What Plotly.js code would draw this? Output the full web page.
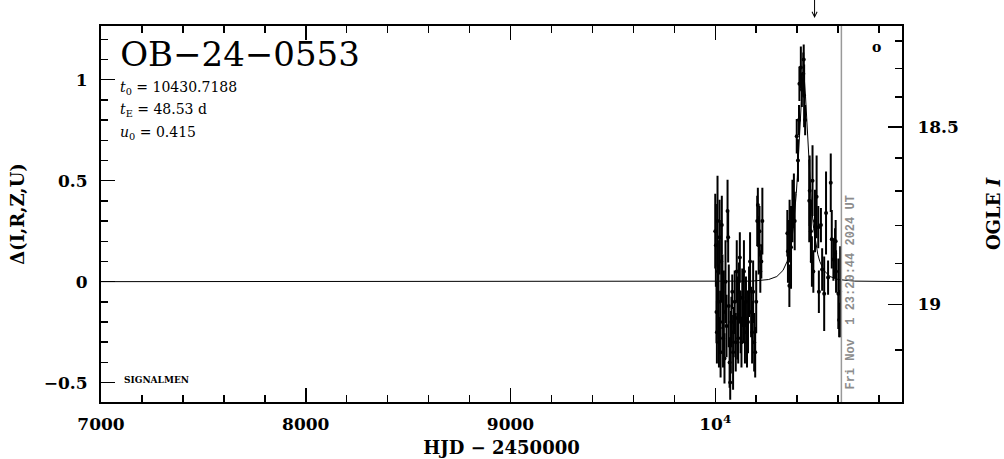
<!DOCTYPE html>
<html>
<head>
<meta charset="utf-8">
<script src="https://cdn.plot.ly/plotly-3.0.1.min.js"></script>
<style>html,body{margin:0;padding:0;background:#fff;}#chart{width:1004px;height:459px;}</style>
</head>
<body>
<div id="chart"></div>
<script>
// ---- observed data (HJD-2450000, Delta mag, error) ----
const obsT = [10000,10003,10006,10008,10011,10013,10016,10018,10021,10024,10026,10029,10032,10035,10038,10042,10045,10050,10055,10060,10063,10066,10070,10073,10076,10079,10083,10087,10090,10095,10100,10105,10108,10112,10116,10120,10124,10128,10132,10136,10140,10145,10150,10155,10160,10165,10170,10175,10180,10185,10190,10195,10200,10205,10208,10212,10216,10220,10225,10230,
  10352,10355,10362,10363,10370,10377,10384,10388,10398,10404,10409,10411,10418,10423,10430,10432,10434,10439,
  10459,10461,10467,10472,10475,10479,10487,10495,10503,10506,10516,10522,10532,10541,10551,10564,10569,10577,10585,10588,10590,10601,10605,10610];
const obsD = [0.25,0.18,-0.15,-0.25,0.30,0.05,-0.10,-0.30,0.22,-0.20,-0.35,0.10,0.28,-0.05,-0.28,-0.15,-0.38,0.00,-0.22,0.35,0.22,-0.12,-0.40,-0.50,-0.30,-0.20,-0.05,-0.35,-0.25,-0.10,-0.30,0.05,-0.18,-0.28,-0.05,0.12,-0.20,-0.30,-0.08,-0.18,0.05,-0.25,-0.10,-0.30,-0.20,-0.05,0.10,-0.15,-0.25,-0.05,-0.30,-0.35,-0.10,0.30,0.38,0.18,0.25,0.05,0.10,0.30,
  0.24,0.15,-0.02,0.25,0.17,0.35,0.40,0.30,0.72,0.60,0.80,0.98,1.06,0.95,1.03,1.10,0.92,0.80,
  0.40,0.45,0.25,0.10,0.50,0.05,0.30,0.42,0.27,-0.05,0.28,0.06,-0.06,0.34,0.02,0.49,0.21,0.11,0.14,0.20,0.05,-0.06,-0.19,-0.05];
const obsErr = [0.18,0.20,0.15,0.15,0.22,0.15,0.18,0.12,0.18,0.15,0.12,0.20,0.14,0.18,0.14,0.20,0.12,0.20,0.15,0.15,0.12,0.20,0.12,0.08,0.15,0.12,0.08,0.18,0.12,0.15,0.14,0.15,0.20,0.12,0.14,0.12,0.15,0.12,0.14,0.12,0.15,0.15,0.12,0.12,0.15,0.12,0.14,0.12,0.15,0.15,0.14,0.12,0.15,0.12,0.08,0.14,0.12,0.10,0.08,0.16,
  0.11,0.15,0.10,0.15,0.20,0.15,0.13,0.14,0.08,0.10,0.07,0.08,0.10,0.08,0.10,0.07,0.15,0.07,
  0.20,0.17,0.15,0.12,0.17,0.10,0.15,0.20,0.10,0.10,0.08,0.10,0.18,0.20,0.08,0.14,0.14,0.10,0.12,0.10,0.10,0.17,0.08,0.22];

// ---- model curve (t0 = 10430.7188, tE = 48.53 d, u0 = 0.415) ----
const modelT = [7000,10030.7,10180,10260.7,10300.7,10330.7,10350.7,10360.7,10370.7,10380.7,10390.7,10395.7,10400.7,10405.7,10410.7,10415.7,10420.7,10425.7,10430.7,
  10435.7,10440.7,10445.7,10450.7,10455.7,10460.7,10465.7,10470.7,10480.7,10490.7,10500.7,10510.7,10530.7,10560.7,10600.7,10680.7,10830.7,10920];
const modelD = [0,0.0004,0.0026,0.0105,0.0254,0.0555,0.0994,0.1357,0.1875,0.2617,0.3676,0.4357,0.5154,0.6071,0.7092,0.8166,0.9176,0.9932,1.0217,
  0.9932,0.9176,0.8166,0.7092,0.6071,0.5154,0.4357,0.3676,0.2617,0.1875,0.1357,0.0994,0.0555,0.0254,0.0105,0.0026,0.0004,0.0002];

// ---- axis ticks ----
const xTickVals = [7000,8000,9000,10000];
const xTickText = ['7000','8000','9000','10<sup>4</sup>'];
const yTickVals = [-0.5,0,0.5,1];
const yTickText = ['\u22120.5','0','0.5','1'];
const magMajor = [18.5,19];
const magMajorText = ['18.5','19'];
const magMinor = [18.2,18.3,18.4,18.6,18.7,18.8,18.9,19.1];
// OGLE I magnitude -> Delta mapping (baseline and source fraction)
const Ibase = 18.946, fsrc = 0.495;
function magToDelta(m){ return 2.5*Math.log10(1 + (Math.pow(10,0.4*(Ibase-m)) - 1)/fsrc); }

const tDate = 10616;   // Fri Nov 1 2024
const tArrow = 10485;

const serif = 'DejaVu Serif, serif';
const yRange = [-0.596, 1.266];

const traces = [
  {x: modelT, y: modelD, mode:'lines', line:{color:'#000', width:1}, hoverinfo:'skip', showlegend:false},
  {x: obsT, y: obsD, mode:'markers', marker:{color:'#000', size:4},
   error_y:{type:'data', array: obsErr, visible:true, color:'#000', thickness:2, width:1},
   showlegend:false, hoverinfo:'skip'},
  {x: [], y: [], yaxis:'y2', showlegend:false}
];

const layout = {
  width:1004, height:459,
  margin:{l:101, r:102, t:26, b:57},
  paper_bgcolor:'#fff', plot_bgcolor:'#fff',
  showlegend:false,
  font:{family:serif, color:'#000'},
  title:{text:'OB\u221224\u22120553', font:{family:serif, size:34, color:'#000'},
         xref:'paper', yref:'paper', x:0.024, xanchor:'left', y:0.925, yanchor:'middle'},
  xaxis:{range:[7000,10912], showgrid:false, zeroline:false,
    showline:true, linecolor:'#000', linewidth:2, mirror:'ticks',
    ticks:'inside', ticklen:14, tickwidth:1.5, tickcolor:'#000',
    tickmode:'array', tickvals:xTickVals, ticktext:xTickText,
    tickfont:{family:serif, size:17, weight:'bold'}, ticklabelstandoff:6,
    minor:{dtick:200, ticks:'inside', ticklen:7, tickwidth:1.5, tickcolor:'#000'},
    title:{text:'HJD \u2212 2450000', font:{family:serif, size:18, weight:'bold'}, standoff:8}},
  yaxis:{range:yRange, showgrid:false, zeroline:false,
    showline:true, linecolor:'#000', linewidth:2, mirror:false,
    ticks:'inside', ticklen:14, tickwidth:1.5, tickcolor:'#000',
    tickmode:'array', tickvals:yTickVals, ticktext:yTickText,
    tickfont:{family:serif, size:17, weight:'bold'}, ticklabelstandoff:8,
    minor:{dtick:0.1, tick0:0, ticks:'inside', ticklen:7, tickwidth:1.5, tickcolor:'#000'},
    title:{text:'\u0394(I,R,Z,U)', font:{family:serif, size:18, weight:'bold'}, standoff:14}},
  yaxis2:{overlaying:'y', side:'right', range:yRange, showgrid:false, zeroline:false,
    showline:true, linecolor:'#000', linewidth:2,
    ticks:'inside', ticklen:14, tickwidth:1.5, tickcolor:'#000',
    tickmode:'array', tickvals:magMajor.map(magToDelta), ticktext:magMajorText,
    tickfont:{family:serif, size:17, weight:'bold'}, ticklabelstandoff:10,
    minor:{tickmode:'array', tickvals:magMinor.map(magToDelta), ticks:'inside', ticklen:7, tickwidth:1.5, tickcolor:'#000'},
    title:{text:'OGLE <i>I</i>', font:{family:serif, size:18, weight:'bold'}, standoff:30}},
  shapes:[
    {type:'line', xref:'x', yref:'paper', x0:tDate, x1:tDate, y0:0, y1:1, line:{color:'#999', width:1.5}}
  ],
  annotations:[
    {xref:'paper', yref:'paper', x:0.021, y:0.835, xanchor:'left', yanchor:'middle', showarrow:false,
     text:'<i>t</i><sub>0</sub> = 10430.7188', font:{family:serif, size:14}},
    {xref:'paper', yref:'paper', x:0.021, y:0.777, xanchor:'left', yanchor:'middle', showarrow:false,
     text:'<i>t</i><sub>E</sub> = 48.53 d', font:{family:serif, size:14}},
    {xref:'paper', yref:'paper', x:0.021, y:0.715, xanchor:'left', yanchor:'middle', showarrow:false,
     text:'<i>u</i><sub>0</sub> = 0.415', font:{family:serif, size:14}},
    {xref:'paper', yref:'paper', x:0.026, y:0.058, xanchor:'left', yanchor:'middle', showarrow:false,
     text:'SIGNALMEN', font:{family:serif, size:9, weight:'bold'}},
    {xref:'x', yref:'y', x:10662, y:-0.055, showarrow:false, textangle:-90,
     text:'Fri Nov\u00a0\u00a01 23:20:44 2024 UT', font:{family:'Liberation Mono, DejaVu Sans Mono, monospace', size:12, weight:'bold', color:'#8c8c8c'}},
    {xref:'x', yref:'y', x:10785, y:1.162, showarrow:false, text:'o', font:{family:serif, size:14, weight:'bold'}},
    {xref:'x', yref:'paper', x:tArrow, y:1, yshift:8, showarrow:true, ax:0, ay:-26, arrowhead:5, arrowsize:1, arrowwidth:1, arrowcolor:'#000', text:''}
  ]
};

Plotly.newPlot('chart', traces, layout, {displayModeBar:false, staticPlot:true});
</script>
</body>
</html>
